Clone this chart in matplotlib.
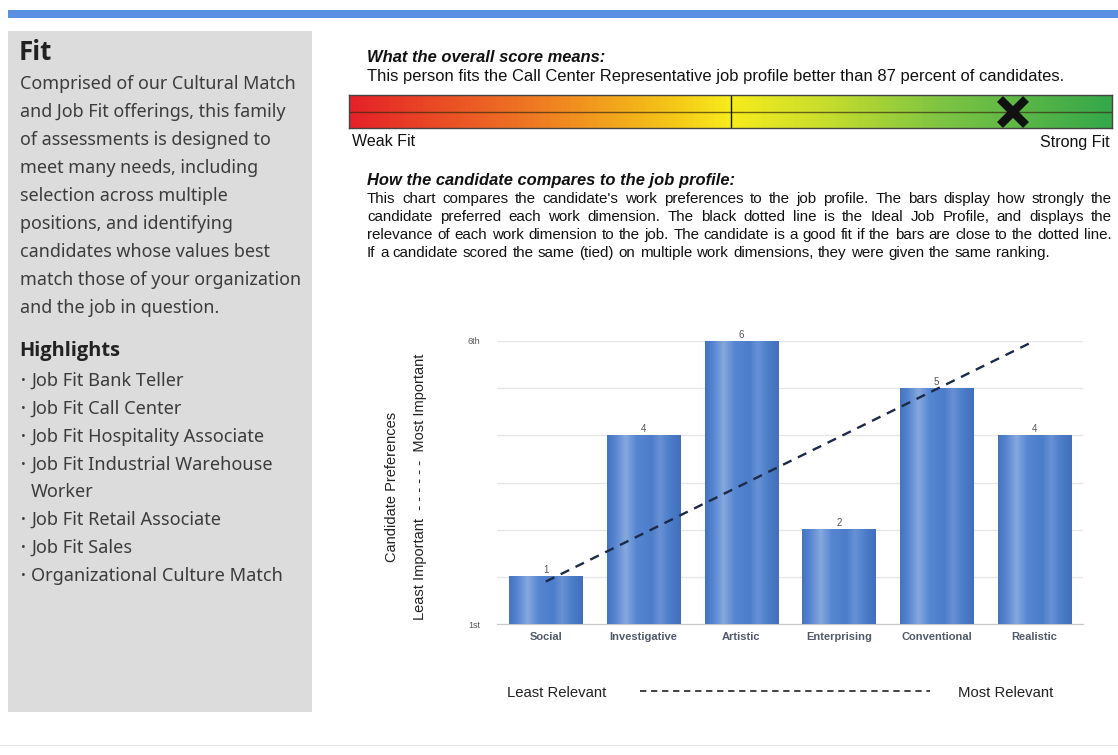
import matplotlib.pyplot as plt
import numpy as np
from matplotlib.colors import LinearSegmentedColormap

W, H = 1118, 755

# overall score (percentile) shown on the fit bar
score_pct = 87

# candidate preference ranks per work dimension
dimensions = ["Social", "Investigative", "Artistic", "Enterprising", "Conventional", "Realistic"]
ranks = [1, 4, 6, 2, 5, 4]
rank_labels = ["1st", "6th"]

# ideal job profile line, least -> most relevant
ideal_x = [0, 5]
ideal_y = [0.9, 6.0]

highlights = [
    "Job Fit Bank Teller",
    "Job Fit Call Center",
    "Job Fit Hospitality Associate",
    "Job Fit Industrial Warehouse\nWorker",
    "Job Fit Retail Associate",
    "Job Fit Sales",
    "Organizational Culture Match",
]

intro_lines = [
    "Comprised of our Cultural Match",
    "and Job Fit offerings, this family",
    "of assessments is designed to",
    "meet many needs, including",
    "selection across multiple",
    "positions, and identifying",
    "candidates whose values best",
    "match those of your organization",
    "and the job in question.",
]

explain_lines = [
    "This chart compares the candidate's work preferences to the job profile. The bars display how strongly the",
    "candidate preferred each work dimension. The black dotted line is the Ideal Job Profile, and displays the",
    "relevance of each work dimension to the job. The candidate is a good fit if the bars are close to the dotted line.",
    "If a candidate scored the same (tied) on multiple work dimensions, they were given the same ranking.",
]


def fx(x):
    return x / W


def fy(y):
    return 1 - y / H


fig = plt.figure(figsize=(W / 100, H / 100), dpi=100)
fig.patch.set_facecolor("white")

# top rule and left panel
fig.add_artist(plt.Rectangle((fx(8), fy(18)), fx(1110), 8 / H, color="#5b8fe3", lw=0))
fig.add_artist(plt.Rectangle((fx(8), fy(712)), fx(304), 681 / H, color="#dcdcdc", lw=0))
fig.add_artist(plt.Rectangle((0, fy(746)), 1, 1.5 / H, color="#e4e4e4", lw=0))

side_font = "Noto Sans"
head_font = "Open Sans"
ink = "#3c3c3c"
fig.text(fx(19), fy(53), "Fit", fontsize=18.5, fontweight="bold", family=head_font,
         color="#222222", va="center")
for i, line in enumerate(intro_lines):
    fig.text(fx(20), fy(84 + 28 * i), line, fontsize=12.9, family=side_font,
             color=ink, va="center")
fig.text(fx(19), fy(351), "Highlights", fontsize=14.4, fontweight="bold", family=head_font,
         color="#222222", va="center")
yy = 381
for item in highlights:
    parts = item.split("\n")
    fig.text(fx(21), fy(yy), "\u2022", fontsize=9, family=side_font, color=ink, va="center")
    for j, p in enumerate(parts):
        fig.text(fx(31), fy(yy), p, fontsize=13.1, family=side_font, color=ink, va="center")
        yy += 27.8

# score explanation
main_font = "Liberation Sans"
fig.text(fx(367), fy(57), "What the overall score means:", fontsize=11.9, fontweight="bold",
         style="italic", family=main_font, color="#111111", va="center")
fig.text(fx(367), fy(77), "This person fits the Call Center Representative job profile better than "
         f"{score_pct} percent of candidates.", fontsize=11.9, family=main_font,
         color="#111111", va="center")

# fit gradient bar
bar_ax = fig.add_axes([fx(349), fy(128), fx(763), 33 / H])
fit_cmap = LinearSegmentedColormap.from_list("fit", [
    (0.0, "#e52128"), (0.25, "#ef7d22"), (0.42, "#f5c518"), (0.5, "#f7ec1c"),
    (0.62, "#c9de2c"), (0.78, "#7dc443"), (1.0, "#35a84a")])
grad = np.linspace(0, 1, 400).reshape(1, -1)
bar_ax.imshow(grad, aspect="auto", cmap=fit_cmap, extent=[0, 100, 0, 1])
bar_ax.axhline(0.5, color="#3a2a10", lw=1.0, alpha=0.7)
bar_ax.axvline(50, color="#111111", lw=1.0)
bar_ax.plot(score_pct, 0.5, marker="x", ms=19, mew=6, color="#111111")
bar_ax.set_xlim(0, 100)
bar_ax.set_ylim(0, 1)
bar_ax.set_xticks([])
bar_ax.set_yticks([])
for s in bar_ax.spines.values():
    s.set_color("#444444")
    s.set_linewidth(1)
fig.text(fx(352), fy(142), "Weak Fit", fontsize=11.5, family=main_font, color="#111111", va="center")
fig.text(fx(1110), fy(142), "Strong Fit", fontsize=11.5, family=main_font, color="#111111",
         va="center", ha="right")

fig.text(fx(367), fy(180), "How the candidate compares to the job profile:", fontsize=11.9,
         fontweight="bold", style="italic", family=main_font, color="#111111", va="center")

# justified paragraph
renderer = fig.canvas.get_renderer()
left_px, right_px = 367, 1112
para_size = 10.9
for i, line in enumerate(explain_lines):
    y = fy(203 + 18 * i)
    words = line.split(" ")
    texts = [fig.text(0, y, w, fontsize=para_size, family=main_font, color="#111111",
                      va="baseline") for w in words]
    widths = [t.get_window_extent(renderer).width for t in texts]
    if i < len(explain_lines) - 1:
        gap = (right_px - left_px - sum(widths)) / (len(words) - 1)
    else:
        gap = renderer.points_to_pixels(para_size) * 0.3
    x = left_px
    for t, w in zip(texts, widths):
        t.set_x(fx(x))
        x += w + gap

# preference chart
ax = fig.add_axes([fx(497), fy(624), fx(586), 283 / H])
xpos = np.arange(len(dimensions))
bars = ax.bar(xpos, ranks, width=0.75, color="#4a7bc8", zorder=2)
bar_cmap = LinearSegmentedColormap.from_list("cyl", [
    (0.0, "#4473c0"), (0.1, "#5584cf"), (0.25, "#86a8de"), (0.4, "#5686d0"),
    (0.6, "#4c7dca"), (0.72, "#6891d5"), (0.85, "#4d7ec9"), (1.0, "#416fbc")])
shade = np.linspace(0, 1, 100).reshape(1, -1)
for b in bars:
    x0, w, h = b.get_x(), b.get_width(), b.get_height()
    ax.imshow(shade, aspect="auto", cmap=bar_cmap, extent=[x0, x0 + w, 0, h], zorder=3)
    ax.text(x0 + w / 2, h + 0.03, f"{h:g}", ha="center", va="bottom", fontsize=7,
            family=main_font, color="#555555", zorder=5)
ax.plot(ideal_x, ideal_y, color="#1b2a48", lw=1.7, dashes=(4, 3), zorder=4)
ax.set_xlim(-0.5, 5.5)
ax.set_ylim(0, 6)
ax.set_yticks(range(7))
ax.set_yticklabels([rank_labels[0], "", "", "", "", "", rank_labels[1]], fontsize=6.5,
                   family=main_font, color="#555555")
ax.set_xticks(xpos)
ax.set_xticklabels(dimensions, fontsize=8, fontweight="bold", family=main_font, color="#505a6a")
ax.tick_params(length=0, pad=6)
ax.tick_params(axis="y", pad=12)
ax.grid(axis="y", color="#e6e6e6", lw=1, zorder=0)
for s in ["top", "right", "left"]:
    ax.spines[s].set_visible(False)
ax.spines["bottom"].set_color("#c8c8c8")

fig.text(fx(392), fy(487), "Candidate Preferences", rotation=90, fontsize=10.5, family=main_font,
         color="#222222", va="center", ha="center")
fig.text(fx(420), fy(487), "Least Important  - - - - - -  Most Important", rotation=90,
         fontsize=10.5, family=main_font, color="#222222", va="center", ha="center")

# relevance legend
fig.text(fx(507), fy(693), "Least Relevant", fontsize=10.7, family=main_font, color="#222222", va="center")
fig.text(fx(958), fy(693), "Most Relevant", fontsize=10.7, family=main_font, color="#222222", va="center")
fig.add_artist(plt.Line2D([fx(640), fx(930)], [fy(691), fy(691)], color="#333333", lw=1.3,
                          dashes=(3.5, 2.6)))

fig.savefig("out.png", dpi=100)
